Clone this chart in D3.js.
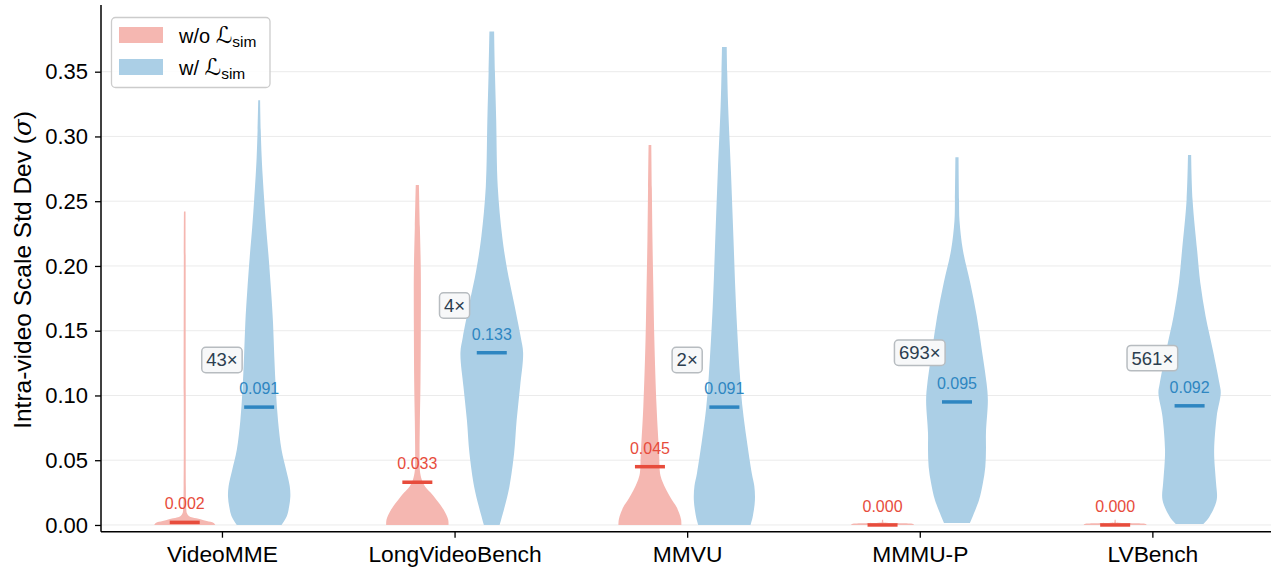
<!DOCTYPE html>
<html>
<head>
<meta charset="utf-8">
<script src="https://cdn.jsdelivr.net/npm/d3@7"></script>
<style>
  html, body { margin: 0; padding: 0; background: #fff; }
  svg { display: block; font-family: "Liberation Sans", Arial, Helvetica, sans-serif; }
</style>
</head>
<body>
<svg id="chart" width="1278" height="567"></svg>
<script>
// Benchmarks on the x axis
const categories = ["VideoMME", "LongVideoBench", "MMVU", "MMMU-P", "LVBench"];

// Mean intra-video scale std dev per benchmark
const meanWithout = [0.002, 0.033, 0.045, 0.000, 0.000];
const meanWith    = [0.091, 0.133, 0.091, 0.095, 0.092];

// Ratio of the two means
const ratioLabels = ["43×", "4×", "2×", "693×", "561×"];

const yTicks = [0.00, 0.05, 0.10, 0.15, 0.20, 0.25, 0.30, 0.35];

// Violin outlines: [value, relative density] pairs, from min to max
const profileWithout = [
  [[0, 0.97], [0.0015, 0.92], [0.003, 0.7], [0.0045, 0.5], [0.0058, 0.25], [0.007, 0.13],
   [0.009, 0.07], [0.012, 0.05], [0.03, 0.035], [0.1, 0.032], [0.2, 0.03], [0.242, 0.025]],
  [[0, 0.99], [0.004, 0.98], [0.0116, 0.84], [0.0193, 0.61], [0.025, 0.42], [0.0296, 0.25],
   [0.035, 0.14], [0.042, 0.08], [0.055, 0.07], [0.08, 0.08], [0.11, 0.1], [0.15, 0.11],
   [0.197, 0.11], [0.23, 0.08], [0.2625, 0.05]],
  [[0, 1.0], [0.004, 0.99], [0.009, 0.93], [0.014, 0.84], [0.02, 0.68], [0.027, 0.52],
   [0.034, 0.39], [0.04, 0.32], [0.0555, 0.29], [0.0914, 0.21], [0.143, 0.14], [0.18, 0.11],
   [0.22, 0.08], [0.26, 0.06], [0.2934, 0.043]],
  [[0, 1.0], [0.0008, 0.97], [0.0014, 0.6], [0.0018, 0.1], [0.002, 0.03], [0.004, 0.02]],
  [[0, 1.0], [0.0008, 0.97], [0.0014, 0.6], [0.0018, 0.1], [0.002, 0.03], [0.004, 0.02]]
];
const profileWith = [
  [[0, 0.71], [0.007, 0.88], [0.014, 0.95], [0.022, 0.99], [0.03, 0.97], [0.042, 0.86],
   [0.058, 0.71], [0.08, 0.6], [0.104, 0.53], [0.13, 0.48], [0.156, 0.44], [0.18, 0.38],
   [0.207, 0.30], [0.23, 0.22], [0.251, 0.16], [0.27, 0.11], [0.284, 0.08], [0.305, 0.05],
   [0.328, 0.03]],
  [[0, 0.25], [0.015, 0.42], [0.0296, 0.56], [0.0555, 0.71], [0.081, 0.79], [0.107, 0.9],
   [0.133, 0.995], [0.145, 0.92], [0.171, 0.71], [0.197, 0.49], [0.223, 0.33], [0.261, 0.19],
   [0.313, 0.14], [0.35, 0.1], [0.381, 0.075]],
  [[0, 0.83], [0.0064, 0.9], [0.0193, 0.97], [0.03, 0.95], [0.04, 0.87], [0.0656, 0.71],
   [0.09, 0.58], [0.117, 0.49], [0.1686, 0.37], [0.22, 0.29], [0.272, 0.21], [0.323, 0.12],
   [0.35, 0.09], [0.369, 0.075]],
  [[0.0015, 0.41], [0.0193, 0.7], [0.032, 0.82], [0.045, 0.9], [0.058, 0.92], [0.071, 0.92],
   [0.0965, 0.98], [0.1094, 0.94], [0.135, 0.79], [0.161, 0.63], [0.187, 0.42], [0.212, 0.19],
   [0.235, 0.08], [0.251, 0.065], [0.284, 0.05]],
  [[0.0008, 0.44], [0.0064, 0.63], [0.0193, 0.86], [0.0324, 0.84], [0.045, 0.8], [0.058, 0.78],
   [0.0836, 0.86], [0.102, 0.99], [0.109, 0.95], [0.135, 0.74], [0.161, 0.51], [0.187, 0.34],
   [0.212, 0.24], [0.251, 0.095], [0.2857, 0.05]]
];

const seriesNames = ["w/o", "w/"];
const lineColors = ["#e74c3c", "#2e86c1"];
const fillColors = ["#f5b7b1", "#abcfe6"];

const svg = d3.select("#chart");

const plot = { left: 101, right: 1271, top: 5, bottom: 531.7 };

const x = d3.scaleLinear().domain([-0.52, 4.51]).range([plot.left, plot.right]);
const y = d3.scaleLinear().domain([-0.0052, 0.4015]).range([plot.bottom, plot.top]);

const offset = 0.16;      // distance of each violin from the category center
const halfWidth = 0.1354; // max half-width of a violin
const meanHalf = 0.0645;  // half-length of the mean bar

// Grid lines
svg.append("g")
  .selectAll("line")
  .data(yTicks)
  .join("line")
  .attr("x1", plot.left).attr("x2", plot.right)
  .attr("y1", d => y(d)).attr("y2", d => y(d))
  .attr("stroke", "#ebebeb").attr("stroke-width", 1);

// Violins
const seriesProfiles = [profileWithout, profileWith];
const seriesMeans = [meanWithout, meanWith];

seriesProfiles.forEach((profiles, s) => {
  const dir = s === 0 ? -1 : 1;
  profiles.forEach((prof, i) => {
    const cx = i + dir * offset;
    const area = d3.area()
      .curve(d3.curveCatmullRom.alpha(0.5))
      .y(d => y(d[0]))
      .x0(d => x(cx - d[1] * halfWidth))
      .x1(d => x(cx + d[1] * halfWidth));
    svg.append("path")
      .datum(prof)
      .attr("d", area)
      .attr("fill", fillColors[s]);
  });
});

// Mean bars and their value labels
seriesMeans.forEach((means, s) => {
  const dir = s === 0 ? -1 : 1;
  means.forEach((m, i) => {
    const cx = i + dir * offset;
    svg.append("line")
      .attr("x1", x(cx - meanHalf)).attr("x2", x(cx + meanHalf))
      .attr("y1", y(m)).attr("y2", y(m))
      .attr("stroke", lineColors[s]).attr("stroke-width", 3.5);
    svg.append("text")
      .attr("x", x(cx)).attr("y", y(m) - 13)
      .attr("text-anchor", "middle")
      .attr("font-size", 16)
      .attr("fill", lineColors[s])
      .text(m.toFixed(3));
  });
});

// Ratio badges between each pair
categories.forEach((c, i) => {
  const top = Math.max(meanWithout[i], meanWith[i]);
  const ry = Math.min(top * 1.4, 0.1695);
  const g = svg.append("g").attr("transform", `translate(${x(i)},${y(ry)})`);
  const t = g.append("text")
    .attr("text-anchor", "middle")
    .attr("dominant-baseline", "central")
    .attr("font-size", 18.5)
    .attr("fill", "#2c3e50")
    .text(ratioLabels[i]);
  const bb = t.node().getBBox();
  g.insert("rect", "text")
    .attr("x", bb.x - 4.5).attr("y", -12.7)
    .attr("width", bb.width + 9).attr("height", 25.4)
    .attr("rx", 4)
    .attr("fill", "#f7f8f9")
    .attr("stroke", "#b7bcc0").attr("stroke-width", 1.5);
});

// Axes
const yAxis = d3.axisLeft(y).tickValues(yTicks).tickFormat(d3.format(".2f")).tickSize(6).tickPadding(7);
const gy = svg.append("g").attr("transform", `translate(${plot.left},0)`).call(yAxis);
gy.select(".domain").attr("d", `M0,${plot.top}V${plot.bottom}`).attr("stroke", "#000").attr("stroke-width", 1.5);
gy.selectAll(".tick line").attr("stroke", "#000").attr("stroke-width", 1.3);
gy.selectAll(".tick text").attr("font-size", 22).attr("fill", "#000")
  .attr("font-family", "'Liberation Sans', Arial, sans-serif");

const xAxis = d3.axisBottom(x).tickValues(d3.range(categories.length))
  .tickFormat(i => categories[i]).tickSize(6).tickPadding(8);
const gx = svg.append("g").attr("transform", `translate(0,${plot.bottom})`).call(xAxis);
gx.select(".domain").attr("d", `M${plot.left},0H${plot.right}`).attr("stroke", "#000").attr("stroke-width", 1.5);
gx.selectAll(".tick line").attr("stroke", "#000").attr("stroke-width", 1.3);
gx.selectAll(".tick text").attr("font-size", 22.8).attr("fill", "#000")
  .attr("font-family", "'Liberation Sans', Arial, sans-serif");

// Y axis title
const yl = svg.append("text")
  .attr("transform", "translate(31,270) rotate(-90)")
  .attr("text-anchor", "middle")
  .attr("font-size", 24.5)
  .attr("fill", "#000");
yl.append("tspan").text("Intra-video Scale Std Dev (");
yl.append("tspan").attr("font-style", "italic").attr("font-family", "'DejaVu Serif', serif").text("σ");
yl.append("tspan").text(")");

// Legend
const lg = svg.append("g");
lg.append("rect")
  .attr("x", 111.5).attr("y", 17.5).attr("width", 158.5).attr("height", 70)
  .attr("rx", 4)
  .attr("fill", "#fff").attr("fill-opacity", 0.85)
  .attr("stroke", "#cccccc").attr("stroke-width", 1.3);
seriesNames.forEach((name, s) => {
  const yy = 35 + s * 32;
  lg.append("rect")
    .attr("x", 119).attr("y", yy - 8).attr("width", 44).attr("height", 16)
    .attr("fill", fillColors[s]);
  const t = lg.append("text")
    .attr("x", 179).attr("y", yy + 7.5)
    .attr("font-size", 20).attr("fill", "#000");
  t.append("tspan").text(name + " ");
  t.append("tspan").attr("font-family", "'DejaVu Sans', sans-serif").attr("font-style", "italic")
    .attr("font-size", 23).text("ℒ");
  t.append("tspan").attr("font-size", 15.5).attr("dy", 4.5).text("sim");
});
</script>
</body>
</html>
